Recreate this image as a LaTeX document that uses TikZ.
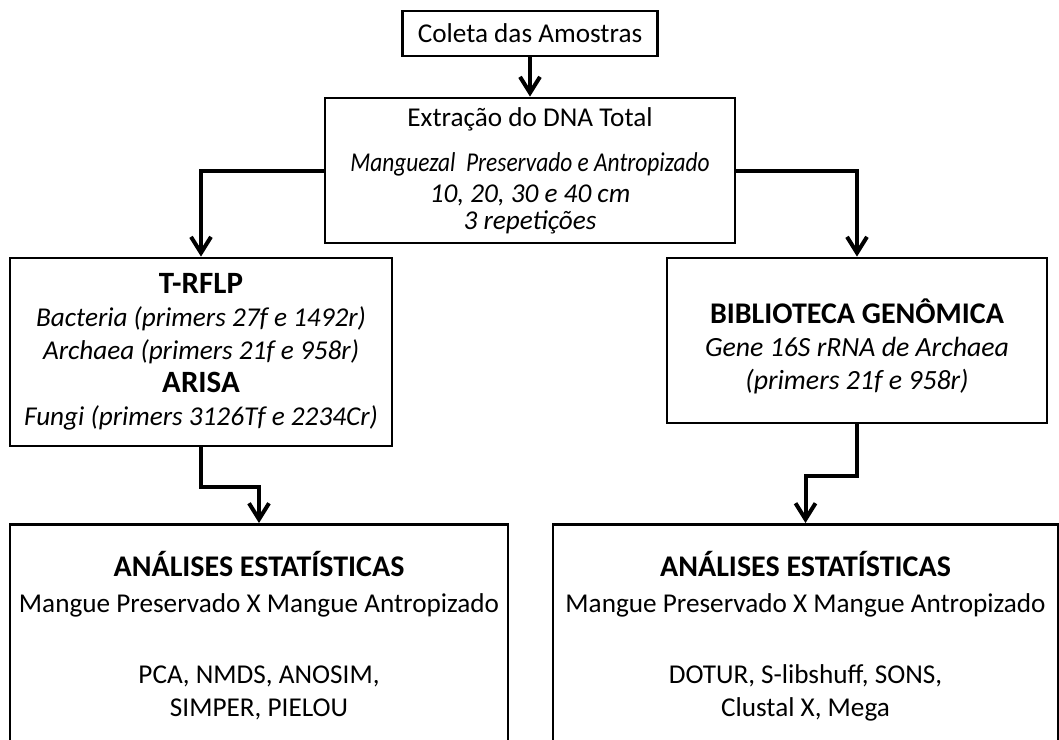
\documentclass[tikz,border=0pt]{standalone}
\usepackage{fontspec}
\usepackage{graphicx}
\setmainfont{Carlito}
\usetikzlibrary{arrows.meta}

\tikzset{box/.style={draw,line width=1.4pt,align=center,inner sep=0pt,font=\fontsize{13.6}{16.5}\selectfont},
open box/.style={draw,line width=1.4pt,align=center,anchor=north,inner xsep=0pt,inner ysep=13.5pt,font=\fontsize{13.6}{16.5}\selectfont},
flow/.style={line width=2pt,-{Straight Barb[length=8pt,width=10pt,line width=2pt]}}}

\begin{document}
\begin{tikzpicture}[x=0.5pt,y=-0.5pt]
%                 +--------------+
%                 |    coleta    |
%                 +------+-------+
%                        |
%         +--------------+--------------+
%    +----|           extracao          |----+
%    |    +-----------------------------+    |
%  trflp                                   biblio
%    |                                       |
%  analiseA                                analiseB

\useasboundingbox (0,0) rectangle (1059,739);

%% Coordinates of boxes.
\coordinate (c0) at (530,33.5);
\coordinate (c1) at (530,170.5);
\coordinate (c2) at (201,352);
\coordinate (c3) at (857,340.5);
\coordinate (c4) at (259,523);
\coordinate (c5) at (805.5,523);

%% boxes
\node [box,minimum width=127.5pt,minimum height=22.5pt] (coleta) at (c0) {Coleta das Amostras};
\node [box,minimum width=205pt,minimum height=72.5pt] (extracao) at (c1)
  {Extração do DNA Total\\[6pt]
   \itshape\scalebox{0.86}[1]{Manguezal\ \ Preservado e Antropizado}\\[-1pt]
   \itshape 10, 20, 30 e 40 cm\\[-3pt]
   \itshape 3 repetições};
\node [box,minimum width=191pt,minimum height=94pt] (trflp) at (c2)
  {\fontsize{15.5}{17}\selectfont\textbf{T-RFLP}\\
   \itshape Bacteria (primers 27f e 1492r)\\
   \itshape Archaea (primers 21f e 958r)\\
   \fontsize{15.5}{17}\selectfont\textbf{ARISA}\\
   \itshape Fungi (primers 3126Tf e 2234Cr)};
\node [box,minimum width=190pt,minimum height=82.5pt] (biblio) at (c3)
  {\rule{0pt}{18pt}\fontsize{15}{17}\selectfont\textbf{BIBLIOTECA GENÔMICA}\\
   \fontsize{13.9}{16.8}\selectfont\itshape Gene 16S rRNA de Archaea\\
   \fontsize{13.9}{16.8}\selectfont\itshape (primers 21f e 958r)};
\node [open box,minimum width=249pt] (analiseA) at (c4)
  {\fontsize{15}{17}\selectfont\textbf{ANÁLISES ESTATÍSTICAS}\\[1.5pt]
   Mangue Preservado X Mangue Antropizado\\[19pt]
   PCA, NMDS, ANOSIM,\\
   SIMPER, PIELOU\\[30pt]};
\node [open box,minimum width=252.5pt] (analiseB) at (c5)
  {\fontsize{15}{17}\selectfont\textbf{ANÁLISES ESTATÍSTICAS}\\[1.5pt]
   Mangue Preservado X Mangue Antropizado\\[19pt]
   DOTUR, S-libshuff, SONS,\\
   Clustal X, Mega\\[30pt]};

%% connectors
\draw [flow] (coleta) -- (extracao);
\draw [flow] (extracao.west) -| (trflp.north);
\draw [flow] (extracao.east) -| (biblio.north);
\draw [flow] (trflp.south) -- ++(0,40) -| (analiseA.north);
\draw [flow] (biblio.south) -- ++(0,52) -| (analiseB.north);

\end{tikzpicture}
\end{document}
